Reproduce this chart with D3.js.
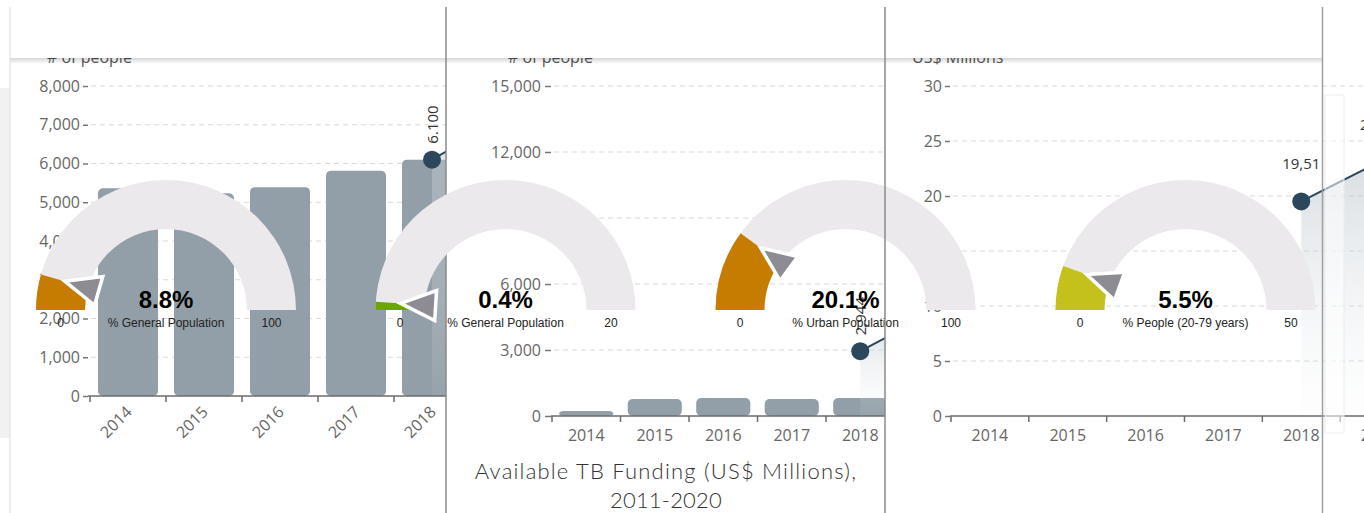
<!DOCTYPE html>
<html><head><meta charset="utf-8">
<script src="https://cdn.jsdelivr.net/npm/d3@7"></script>
<style>body{margin:0;background:#fff;overflow:hidden}svg{display:block}</style>
</head><body><svg id="c" width="1364" height="513"></svg>
<script>
// ---------- data ----------
const years = ["2014","2015","2016","2017","2018","2019"];
const peopleBarsA = [5360, 5230, 5390, 5810, 6100];
const peopleLineA = [6100, 7230];          // 2018, 2019
const peopleLineLabelsA = ["6.100", "7.230"];
const peopleBarsB = [230, 770, 820, 770, 820];
const peopleLineB = [2944, 4600];          // 2018, 2019
const peopleLineLabelsB = ["2,944", "4,600"];
const fundingLine = [19.51, 23.09];        // 2018, 2019
const fundingLineLabels = ["19,51", "23,09"];
const ticksA = [0,1000,2000,3000,4000,5000,6000,7000,8000];
const ticksB = [0,3000,6000,9000,12000,15000];
const ticksC = [0,5,10,15,20,25,30];
const axisTitles = ["# of people", "# of people", "US$ Millions"];
const gaugeValues = [8.8, 0.4, 20.1, 5.5];
const gaugeMin = [0, 0, 0, 0];
const gaugeMax = [100, 20, 100, 50];
const gaugeLabels = ["% General Population", "% General Population", "% Urban Population", "% People (20-79 years)"];
const titleLines = ["Available TB Funding (US$ Millions),", "2011-2020"];

// ---------- layout ----------
const svg = d3.select("#c");
const defs = svg.append("defs");
const W = 1364, H = 513;
const DOT = "#2c475c", BAR = "#939fa8", TXT = "#666";
const FONT = "'Open Sans', 'DejaVu Sans', sans-serif";

const grad = defs.append("linearGradient").attr("id","areaG").attr("x1",0).attr("y1",0).attr("x2",0).attr("y2",1);
grad.append("stop").attr("offset","0%").attr("stop-color","#b9c3cb").attr("stop-opacity",0.55);
grad.append("stop").attr("offset","100%").attr("stop-color","#e8ecef").attr("stop-opacity",0.05);
const sh = defs.append("linearGradient").attr("id","shadowG").attr("x1",0).attr("y1",0).attr("x2",0).attr("y2",1);
sh.append("stop").attr("offset","0%").attr("stop-color","#000").attr("stop-opacity",0.16);
sh.append("stop").attr("offset","100%").attr("stop-color","#000").attr("stop-opacity",0);

// background strip behind left panel
svg.append("rect").attr("x",0).attr("y",88).attr("width",10).attr("height",350).attr("fill","#f1f1f1");

const panels = [
  {clip:[10,446], y0:396, y1:86, max:8000, ticks:ticksA, band:[90,546], axisX:88, tickSize:5, pad:3,
   bars:peopleBarsA, line:peopleLineA, lineLabels:peopleLineLabelsA, rotX:true, rotLabel:true, title:axisTitles[0], titleX:47},
  {clip:[447,885], y0:416, y1:86, max:15000, ticks:ticksB, band:[552,963], axisX:551, tickSize:6, pad:4,
   bars:peopleBarsB, line:peopleLineB, lineLabels:peopleLineLabelsB, rotX:false, rotLabel:true, title:axisTitles[1], titleX:508},
  {clip:[886,1364], y0:416, y1:86, max:30, ticks:ticksC, band:[951,1418], axisX:950, tickSize:5, pad:3,
   bars:null, line:fundingLine, lineLabels:fundingLineLabels, rotX:false, rotLabel:false, title:axisTitles[2], titleX:912}
];

panels.forEach((p,i) => {
  const cid = "clip"+i;
  defs.append("clipPath").attr("id",cid).append("rect")
    .attr("x",p.clip[0]).attr("y",0).attr("width",p.clip[1]-p.clip[0]).attr("height",H);
  const g = svg.append("g").attr("clip-path",`url(#${cid})`);
  const y = d3.scaleLinear().domain([0,p.max]).range([p.y0,p.y1]);
  const x = d3.scaleBand().domain(years).range(p.band).paddingInner(0.21).paddingOuter(0.105);
  const step = x.step();

  // axis title (partially hidden by header)
  g.append("text").attr("x",p.titleX).attr("y",63).attr("font-family",FONT).attr("font-size",16)
    .attr("fill","#555").text(p.title);

  // gridlines
  g.append("g").selectAll("line").data(p.ticks.filter(d=>d>0)).join("line")
    .attr("x1",p.axisX+3).attr("x2",p.clip[1]).attr("y1",d=>y(d)).attr("y2",d=>y(d))
    .attr("stroke","#d9d9d9").attr("stroke-dasharray","5,4");

  // y axis
  const ya = g.append("g").attr("transform",`translate(${p.axisX},0)`)
    .call(d3.axisLeft(y).tickValues(p.ticks).tickSize(p.tickSize).tickPadding(p.pad).tickFormat(d3.format(",")));
  ya.select(".domain").remove();
  ya.selectAll("line").attr("stroke","#777").attr("stroke-width",1.5);
  ya.selectAll("text").attr("font-family",FONT).attr("font-size",16).attr("fill",TXT);

  // bars
  if (p.bars) {
    g.append("g").selectAll("rect").data(p.bars).join("rect")
      .attr("x",(d,j)=>x(years[j])).attr("width",x.bandwidth())
      .attr("y",d=>y(d)).attr("height",d=>Math.max(0,y(0)-y(d)))
      .attr("rx",5).attr("fill",BAR);
  }

  // line series 2018-2019 with area
  const lp = p.line.map((v,j)=>({yr:years[4+j], v:v, lab:p.lineLabels[j]}));
  const cx = d => x(d.yr)+x.bandwidth()/2;
  g.append("path").datum(lp).attr("fill","url(#areaG)")
    .attr("d", d3.area().x(cx).y0(y(0)).y1(d=>y(d.v)));
  g.append("path").datum(lp).attr("fill","none").attr("stroke",DOT).attr("stroke-width",2)
    .attr("d", d3.line().x(cx).y(d=>y(d.v)));

  // x axis
  g.append("line").attr("x1",p.axisX).attr("x2",p.clip[1]).attr("y1",y(0)).attr("y2",y(0))
    .attr("stroke","#6b6b6b").attr("stroke-width",1.5);
  g.append("g").selectAll("line").data(years).join("line")
    .attr("x1",d=>x(d)-step*0.105).attr("x2",d=>x(d)-step*0.105)
    .attr("y1",y(0)).attr("y2",y(0)+6).attr("stroke","#6b6b6b").attr("stroke-width",1.5);
  const xl = g.append("g").selectAll("text").data(years).join("text")
    .attr("font-family",FONT).attr("font-size",16).attr("fill",TXT).text(d=>d);
  if (p.rotX) {
    xl.attr("text-anchor","end")
      .attr("transform",d=>`translate(${x(d)+x.bandwidth()/2+5},${y(0)+17}) rotate(-45)`);
  } else {
    xl.attr("text-anchor","middle").attr("x",d=>x(d)+x.bandwidth()/2).attr("y",y(0)+25);
  }

  p._g = g; p._x = x; p._y = y; p._lp = lp; p._cx = cx;
});

// header band
svg.append("rect").attr("x",10).attr("y",7).attr("width",1312).attr("height",51).attr("fill","#fff");
svg.append("rect").attr("x",10).attr("y",58).attr("width",1312).attr("height",6).attr("fill","url(#shadowG)");

// right-side background card
svg.append("rect").attr("x",1325).attr("y",95).attr("width",19).attr("height",338)
  .attr("fill","#fff").attr("fill-opacity",0.55).attr("stroke","#ececec");

// dots and labels (panels 1 and 3 under gauges)
function drawDots(p, i) {
  const g = p._g;
  g.append("g").selectAll("circle").data(p._lp).join("circle")
    .attr("cx",p._cx).attr("cy",d=>p._y(d.v)).attr("r",9).attr("fill",DOT);
  const t = g.append("g").selectAll("text").data(p._lp).join("text")
    .attr("font-family",FONT).attr("font-size",15).attr("fill","#333").text(d=>d.lab);
  if (p.rotLabel) {
    t.attr("text-anchor","start")
     .attr("transform",d=>`translate(${p._cx(d)+6},${p._y(d.v)-16}) rotate(-90)`);
  } else {
    t.attr("text-anchor","middle").attr("x",p._cx).attr("y",d=>p._y(d.v)-32);
  }
}
drawDots(panels[0],0);
drawDots(panels[2],2);

// panel borders
svg.append("line").attr("x1",10).attr("x2",10).attr("y1",7).attr("y2",H).attr("stroke","#dcdcdc");
svg.append("line").attr("x1",446).attr("x2",446).attr("y1",7).attr("y2",H).attr("stroke","#8a8a8a").attr("stroke-width",1.5);
svg.append("line").attr("x1",1322.5).attr("x2",1322.5).attr("y1",7).attr("y2",H).attr("stroke","#a0a0a0").attr("stroke-width",1.5);

// ---------- gauges ----------
const gcx = [166, 505.5, 845.5, 1185.5], gcy = 310, rOut = 130, rIn = 81;
const gColors = ["#c67c00", "#6aa500", "#c67c00", "#c4c11d"];
const gl = svg.append("g");
gaugeValues.forEach((v,i) => {
  const g = gl.append("g").attr("transform",`translate(${gcx[i]},${gcy})`);
  const frac = (v-gaugeMin[i])/(gaugeMax[i]-gaugeMin[i]);
  const arc = d3.arc().innerRadius(rIn).outerRadius(rOut);
  g.append("path").attr("fill","#ebe9eb").attr("d",arc({startAngle:-Math.PI/2,endAngle:Math.PI/2}));
  g.append("path").attr("fill",gColors[i]).attr("d",arc({startAngle:-Math.PI/2,endAngle:-Math.PI/2+frac*Math.PI}));
  const th = frac*Math.PI, dx=-Math.cos(th), dy=-Math.sin(th), px=Math.sin(th), py=-Math.cos(th);
  const tip=[105*dx,105*dy], bc=[70*dx,70*dy];
  const pts=[tip,[bc[0]+15*px,bc[1]+15*py],[bc[0]-15*px,bc[1]-15*py]];
  g.append("polygon").attr("points",pts.map(q=>q.join(",")).join(" "))
    .attr("fill","#8d8b93").attr("stroke","#fff").attr("stroke-width",3.5).attr("stroke-linejoin","miter");
  g.append("text").attr("x",0).attr("y",-2).attr("text-anchor","middle")
    .attr("font-family","'Liberation Sans', Arial, sans-serif").attr("font-weight","bold").attr("font-size",24)
    .attr("fill","#000").text(v.toFixed(1)+"%");
  const f = "'Liberation Sans', Arial, sans-serif";
  g.append("text").attr("x",-(rOut+rIn)/2).attr("y",17).attr("text-anchor","middle").attr("font-family",f)
    .attr("font-size",12).attr("fill","#222").text(gaugeMin[i]);
  g.append("text").attr("x",0).attr("y",17).attr("text-anchor","middle").attr("font-family",f)
    .attr("font-size",12).attr("fill","#222").text(gaugeLabels[i]);
  g.append("text").attr("x",(rOut+rIn)/2).attr("y",17).attr("text-anchor","middle").attr("font-family",f)
    .attr("font-size",12).attr("fill","#222").text(gaugeMax[i]);
});

// panel 2 dots/labels and border drawn above gauges
drawDots(panels[1],1);
svg.append("line").attr("x1",885).attr("x2",885).attr("y1",7).attr("y2",H).attr("stroke","#8a8a8a").attr("stroke-width",1.5);

// title
const tt = svg.append("text").attr("text-anchor","middle").attr("font-family","Lato, 'Open Sans', sans-serif")
  .attr("font-size",22).attr("font-weight",300).attr("fill","#333");
titleLines.forEach((t,i)=> tt.append("tspan").attr("x",666).attr("y",479+i*29)
  .attr("letter-spacing", i===0 ? 1.2 : 0.2).text(t));
</script>
</body></html>
